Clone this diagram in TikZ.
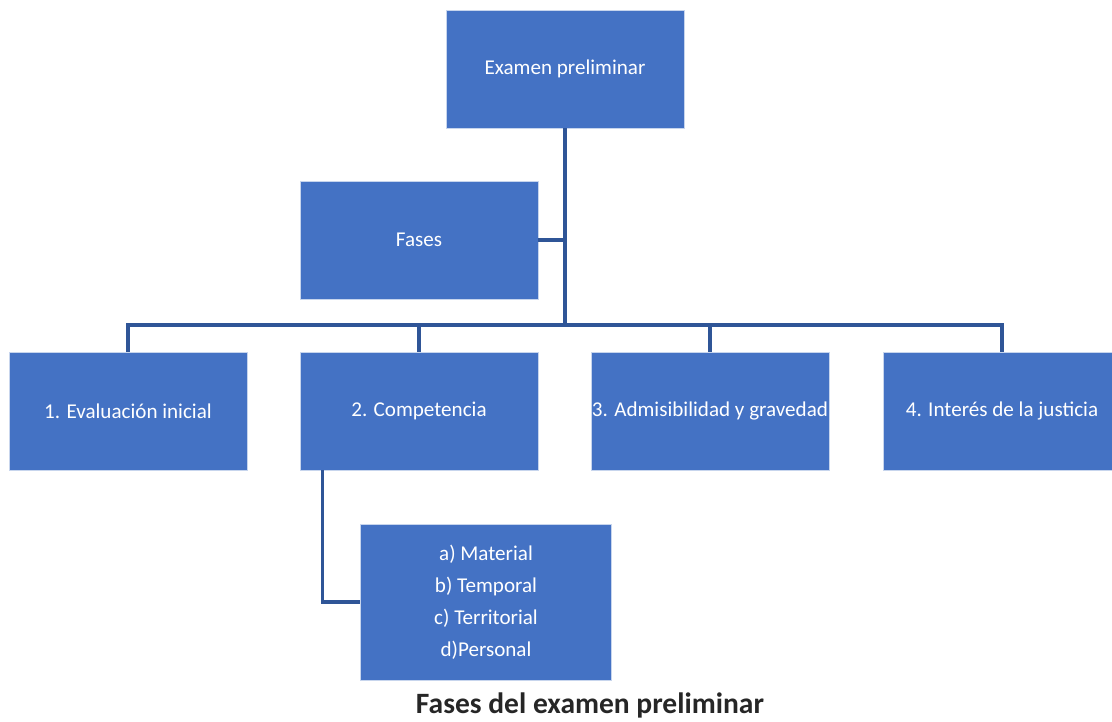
\documentclass[tikz,border=0pt]{standalone}
\usepackage{fontspec}
\setmainfont{Carlito}
\usepackage{tikz}

\definecolor{boxblue}{HTML}{4472C4}
\definecolor{linkblue}{HTML}{2F5597}

\begin{document}
\begin{tikzpicture}[
    every node/.style={inner sep=0pt},
    phase/.style={rectangle,fill=boxblue,draw=white!70!boxblue,line width=0.6pt,
        minimum width=5.95cm,minimum height=2.95cm,text=white,
        font=\fontsize{15}{22.7}\selectfont,align=center},
    link/.style={draw=linkblue,line width=2.3pt}]
    \useasboundingbox (0,0) rectangle (27.8,18.05);
    \clip (0,0) rectangle (27.8,18.05);

    \node[phase] (top) at (14.125,16.325) {Examen preliminar};
    \node[phase] (fases) at (10.475,12.05) {Fases};
    \node[phase] (B1) at (3.2,7.775) {1. Evaluación inicial};
    \node[phase] (B2) at (10.475,7.775) {2. Competencia};
    \node[phase] (B3) at (17.75,7.775) {3. Admisibilidad y gravedad};
    \node[phase] (B4) at (25.05,7.775) {4. Interés de la justicia};
    \node[phase,minimum width=6.275cm,minimum height=3.9cm] (sub) at (12.15,3.0)
        {a) Material\\b) Temporal\\c) Territorial\\d)Personal};
    \node[font=\fontsize{21}{25}\selectfont\bfseries,text=black!85] (title) at (14.75,0.42)
        {Fases del examen preliminar};

    \coordinate (bar) at (14.125,9.925);

    \draw[link]
        (top.south) -- (bar)
        (fases.east) -- (fases.east -| bar)
        (B1.north) -- (B1.north |- bar) -- (B4.north |- bar) -- (B4.north)
        (B2.north) -- (B2.north |- bar)
        (B3.north) -- (B3.north |- bar)
        ([xshift=0.575cm]B2.south west) |- (sub.west);
\end{tikzpicture}
\end{document}
